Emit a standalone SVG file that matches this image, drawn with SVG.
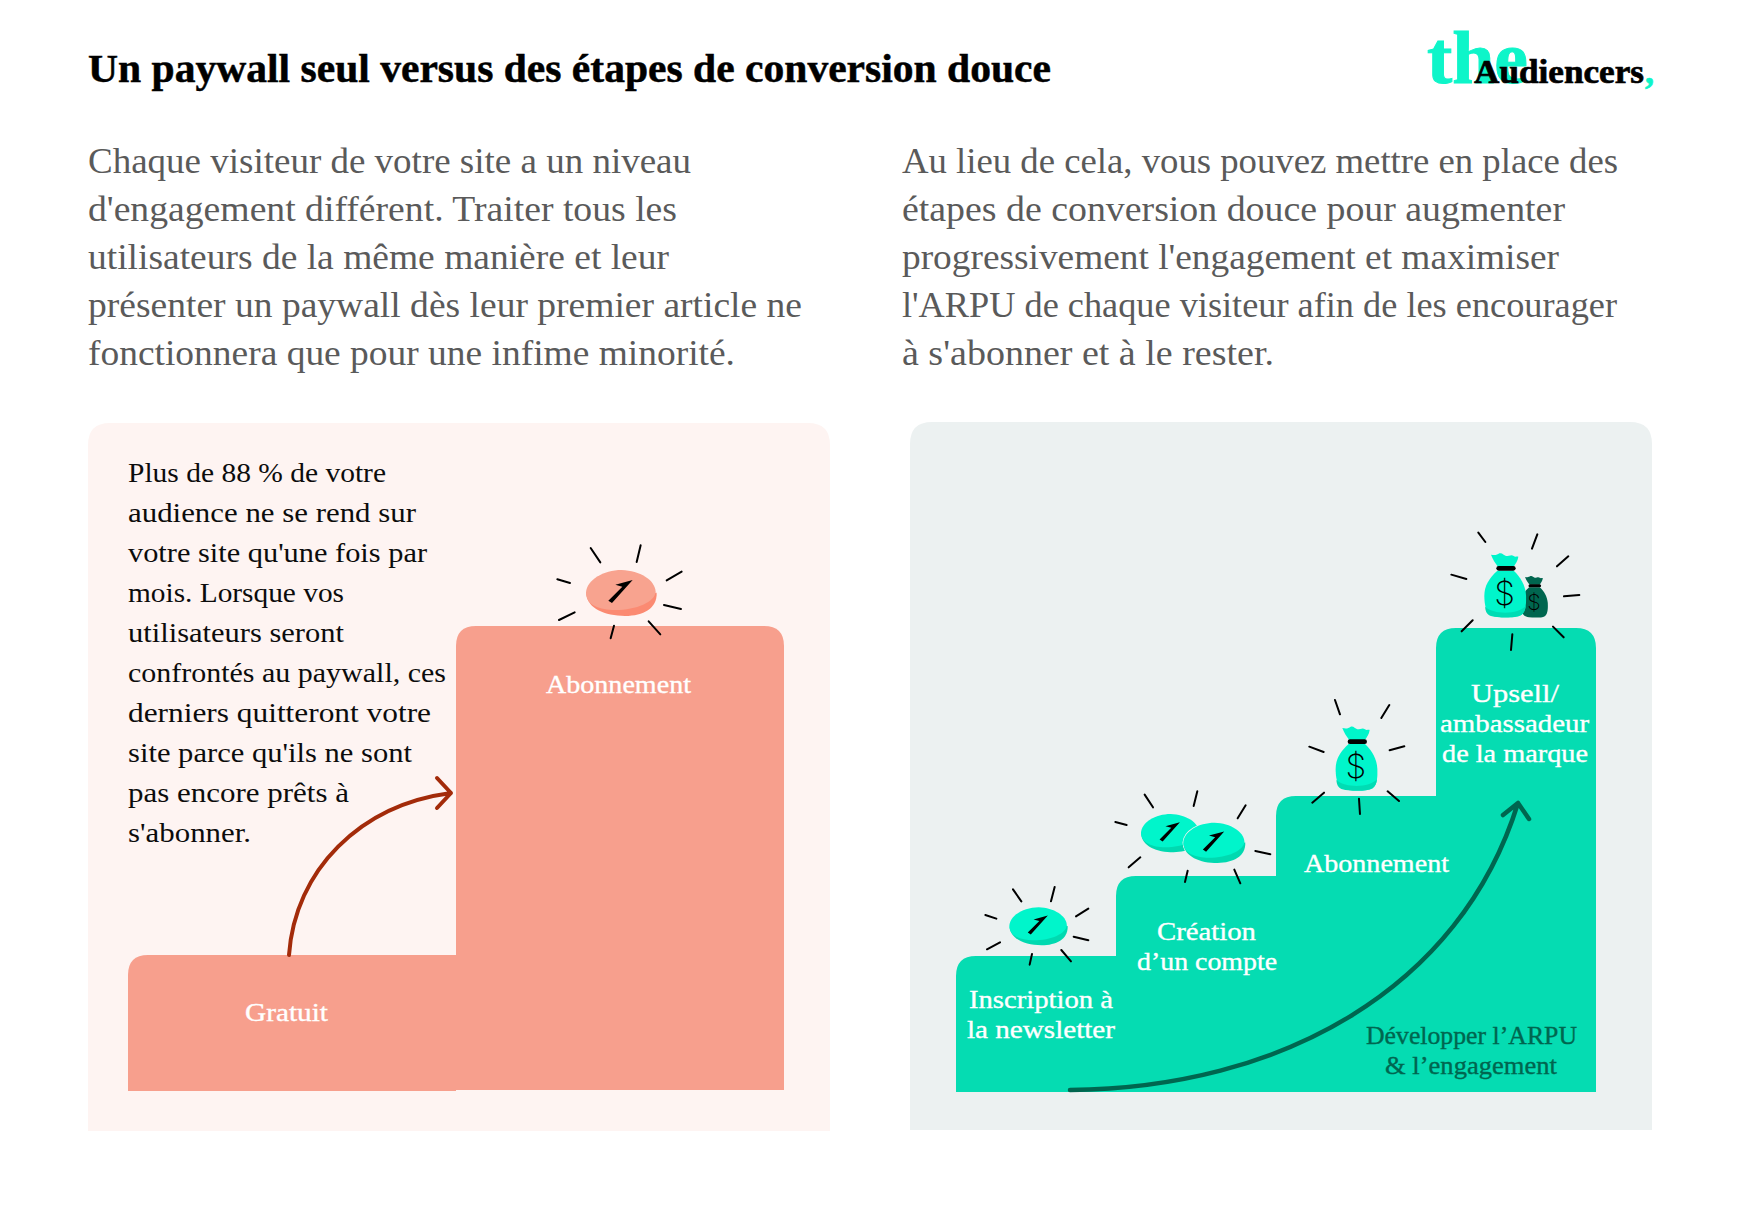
<svg xmlns="http://www.w3.org/2000/svg" xmlns:xlink="http://www.w3.org/1999/xlink" width="1740" height="1218" viewBox="0 0 1740 1218">
<style>
text{font-family:"Liberation Serif",serif}
.title{font-size:41px;font-weight:700;fill:#000;stroke:#000;stroke-width:.5px}
.para{font-size:35px;fill:#5a5a5a}
.inner{font-size:27.5px;fill:#0c0c0c}
.lbl{font-size:26px;fill:#fff;stroke:#fff;stroke-width:.35px}
.dark{font-size:26px;fill:#00664f;stroke:#00664f;stroke-width:.35px}
.ray{stroke:#000;stroke-width:6;stroke-linecap:round;fill:none}
.logo{font-weight:700}
.dollar{font-family:Inter,"Liberation Sans",sans-serif;font-weight:200;font-size:100px;text-anchor:middle;fill:#000}
.salmon{fill:#f79f8d}
.green{fill:#05dcb2}
</style>
<defs>
<path id="coin-shade" d="M139 190C140 235 195 258 255 258C310 257 352 235 350 188Z"/>
<path id="coin-top" d="M138 188C140 150 190 120 245 120C300 122 345 150 347 185C345 215 290 240 225 240C180 240 138 225 138 188Z"/>
<path id="coin-arrow" d="M205 212L247 170L226 164L278 150L216 219Z" fill="#000"/>
<path id="bag-body" d="M746 162C720 185 706 210 707 240C708 270 712 296 745 300C770 303 805 303 818 295C832 285 833 260 832 235C830 205 815 180 795 162Z"/>
<path id="bag-shade" d="M709 270C712 296 722 298 745 301C770 304 805 303 818 295C826 289 830 280 831 268C810 292 740 296 709 270Z"/>
<path id="bag-top" d="M727 114C737 116 745 116 752 110C760 107 765 115 772 118C782 118 788 112 795 118C800 122 805 118 809 120C808 132 800 142 795 150L748 150C740 140 732 128 727 114Z"/>
<rect id="bag-band" x="743" y="148" width="58" height="14" rx="7" fill="#000"/>
</defs>

<rect width="1740" height="1218" fill="#fff"/>

<g id="header">
<text class="title" x="88" y="82" textLength="963" lengthAdjust="spacingAndGlyphs">Un paywall seul versus des étapes de conversion douce</text>
</g>
<g id="logo" class="logo">
<text x="1427" y="83" font-size="74" fill="#0ef5c9" stroke="#0ef5c9" stroke-width="1" textLength="101" lengthAdjust="spacingAndGlyphs">the</text>
<text x="1474" y="83" font-size="33" fill="#000" stroke="#000" stroke-width=".7" textLength="170" lengthAdjust="spacingAndGlyphs">Audiencers</text>
<text x="1645" y="83" font-size="36" fill="#0ef5c9" stroke="#0ef5c9" stroke-width=".7">,</text>
</g>

<g id="intro-left" class="para">
<text x="88" y="173" textLength="603" lengthAdjust="spacingAndGlyphs">Chaque visiteur de votre site a un niveau</text>
<text x="88" y="221" textLength="589" lengthAdjust="spacingAndGlyphs">d'engagement différent. Traiter tous les</text>
<text x="88" y="269" textLength="581" lengthAdjust="spacingAndGlyphs">utilisateurs de la même manière et leur</text>
<text x="88" y="317" textLength="714" lengthAdjust="spacingAndGlyphs">présenter un paywall dès leur premier article ne</text>
<text x="88" y="365" textLength="647" lengthAdjust="spacingAndGlyphs">fonctionnera que pour une infime minorité.</text>
</g>
<g id="intro-right" class="para">
<text x="902" y="173" textLength="716" lengthAdjust="spacingAndGlyphs">Au lieu de cela, vous pouvez mettre en place des</text>
<text x="902" y="221" textLength="663" lengthAdjust="spacingAndGlyphs">étapes de conversion douce pour augmenter</text>
<text x="902" y="269" textLength="657" lengthAdjust="spacingAndGlyphs">progressivement l'engagement et maximiser</text>
<text x="902" y="317" textLength="715" lengthAdjust="spacingAndGlyphs">l'ARPU de chaque visiteur afin de les encourager</text>
<text x="902" y="365" textLength="372" lengthAdjust="spacingAndGlyphs">à s'abonner et à le rester.</text>
</g>

<g id="panel-left">
<path d="M88 445Q88 423 110 423H808Q830 423 830 445V1131H88Z" fill="#fef4f2"/>
<g class="inner">
<text x="128" y="482" textLength="258" lengthAdjust="spacingAndGlyphs">Plus de 88 % de votre</text>
<text x="128" y="522" textLength="288" lengthAdjust="spacingAndGlyphs">audience ne se rend sur</text>
<text x="128" y="562" textLength="299" lengthAdjust="spacingAndGlyphs">votre site qu'une fois par</text>
<text x="128" y="602" textLength="216" lengthAdjust="spacingAndGlyphs">mois. Lorsque vos</text>
<text x="128" y="642" textLength="216" lengthAdjust="spacingAndGlyphs">utilisateurs seront</text>
<text x="128" y="682" textLength="318" lengthAdjust="spacingAndGlyphs">confrontés au paywall, ces</text>
<text x="128" y="722" textLength="303" lengthAdjust="spacingAndGlyphs">derniers quitteront votre</text>
<text x="128" y="762" textLength="284" lengthAdjust="spacingAndGlyphs">site parce qu'ils ne sont</text>
<text x="128" y="802" textLength="221" lengthAdjust="spacingAndGlyphs">pas encore prêts à</text>
<text x="128" y="842" textLength="123" lengthAdjust="spacingAndGlyphs">s'abonner.</text>
</g>
</g>

<g id="bar-gratuit">
<path class="salmon" d="M128 1091V975Q128 955 148 955H456V1091Z"/>
<text class="lbl" x="245" y="1021" textLength="83" lengthAdjust="spacingAndGlyphs">Gratuit</text>
</g>
<g id="bar-abonnement">
<path class="salmon" d="M456 1090V646Q456 626 476 626H764Q784 626 784 646V1090Z"/>
<text class="lbl" x="546" y="693" textLength="145" lengthAdjust="spacingAndGlyphs">Abonnement</text>
</g>
<g id="coin-left" transform="translate(540 530) scale(.3333)">
<use href="#coin-shade" fill="#fb8a72"/><use href="#coin-top" fill="#f8a38f"/><use href="#coin-arrow"/>
<path class="ray" d="M152 54L181 97M302 46L290 96M425 125L380 151M52 148L90 159M372 225L423 237M57 270L104 247M326 274L361 313M222 287L212 325"/>
</g>

<g id="panel-right">
<path d="M910 444Q910 422 932 422H1630Q1652 422 1652 444V1130H910Z" fill="#ecf1f1"/>
</g>
<g id="steps">
<path class="green" d="M956 1092V976Q956 956 976 956H1116V896Q1116 876 1136 876H1276V816Q1276 796 1296 796H1436V648Q1436 628 1456 628H1576Q1596 628 1596 648V1092Z"/>
</g>
<g id="step-newsletter">
<text class="lbl" x="969" y="1008" textLength="144" lengthAdjust="spacingAndGlyphs">Inscription à</text>
<text class="lbl" x="967" y="1038" textLength="148" lengthAdjust="spacingAndGlyphs">la newsletter</text>
<g transform="translate(971.4 874.3) scale(.275)">
<use href="#coin-shade" fill="#00d9b0"/><use href="#coin-top" fill="#00f5cb"/><use href="#coin-arrow"/>
</g>
<g transform="translate(960 870) scale(.3333)">
<path class="ray" d="M159 58L184 94M284 51L273 94M385 116L348 139M76 135L109 146M341 200L385 211M81 238L120 217M304 240L333 274M216 252L209 284"/>
</g>
</g>
<g id="step-compte">
<text class="lbl" x="1157" y="940" textLength="99" lengthAdjust="spacingAndGlyphs">Création</text>
<text class="lbl" x="1137" y="970" textLength="140" lengthAdjust="spacingAndGlyphs">d’un compte</text>
<g transform="translate(1102.6 780.6) scale(.278)">
<use href="#coin-shade" fill="#00d9b0"/><use href="#coin-top" fill="#00f5cb"/><use href="#coin-arrow"/>
</g>
<g transform="translate(1142.9 787.6) scale(.2925)">
<path d="M138 188C140 150 190 120 245 120C300 122 350 150 350 188C352 235 310 257 255 258C195 258 138 235 138 188Z" fill="#ecf1f1" stroke="#ecf1f1" stroke-width="5"/>
<use href="#coin-shade" fill="#00d9b0"/><use href="#coin-top" fill="#00f5cb"/><use href="#coin-arrow"/>
</g>
<g transform="translate(1100 690) scale(.3333)">
<path class="ray" d="M134 314L159 352M292 304L281 348M437 346L413 385M46 396L80 405M466 483L511 493M86 532L121 502M263 542L255 576M403 539L421 580"/>
</g>
</g>
<g id="step-abonnement">
<text class="lbl" x="1304" y="872" textLength="145" lengthAdjust="spacingAndGlyphs">Abonnement</text>
<g transform="translate(1100 690) scale(.3333)">
<use href="#bag-top" fill="#00f5cb"/><use href="#bag-body" fill="#00f5cb"/><use href="#bag-shade" fill="#00dcb4"/><use href="#bag-band"/>
<text class="dollar" x="768" y="265">$</text>
<path class="ray" d="M705 30L720 73M868 45L844 84M628 170L671 186M913 169L869 181M637 338L672 308M863 304L897 333M777 326L780 372"/>
</g>
</g>
<g id="step-upsell">
<text class="lbl" x="1471" y="702" textLength="88" lengthAdjust="spacingAndGlyphs">Upsell/</text>
<text class="lbl" x="1440" y="732" textLength="149" lengthAdjust="spacingAndGlyphs">ambassadeur</text>
<text class="lbl" x="1442" y="762" textLength="146" lengthAdjust="spacingAndGlyphs">de la marque</text>
<g transform="translate(1367.5 552.2) scale(.2167)">
<use href="#bag-top" fill="#00664f"/><use href="#bag-body" fill="#00664f"/><use href="#bag-band"/>
<text class="dollar" x="768" y="265">$</text>
</g>
<g transform="translate(1248.7 516.7) scale(.3333)">
<use href="#bag-top" fill="#00f5cb"/><use href="#bag-body" fill="#00f5cb"/><use href="#bag-shade" fill="#00dcb4"/><use href="#bag-band"/>
<text class="dollar" x="768" y="265">$</text>
</g>
<g transform="translate(1430 520) scale(.3333)">
<path class="ray" d="M145 38L166 66M322 43L306 86M415 109L381 139M64 164L109 177M448 225L402 229M128 301L95 334M369 320L401 352M247 343L243 390"/>
</g>
</g>
<g id="label-arpu">
<text class="dark" x="1366" y="1044" textLength="211" lengthAdjust="spacingAndGlyphs">Développer l’ARPU</text>
<text class="dark" x="1385" y="1074" textLength="172" lengthAdjust="spacingAndGlyphs">&amp; l’engagement</text>
</g>

<g id="connectors" fill="none" stroke-linecap="round" stroke-linejoin="round">
<path d="M289 955C295 870 360 805 451 793M437 778L451 793L437 808" stroke="#a32b0a" stroke-width="4"/>
<path d="M1070 1090C1280 1088 1460 990 1518 803M1503 815L1518 803L1529 819" stroke="#00664f" stroke-width="4.5"/>
</g>
</svg>
